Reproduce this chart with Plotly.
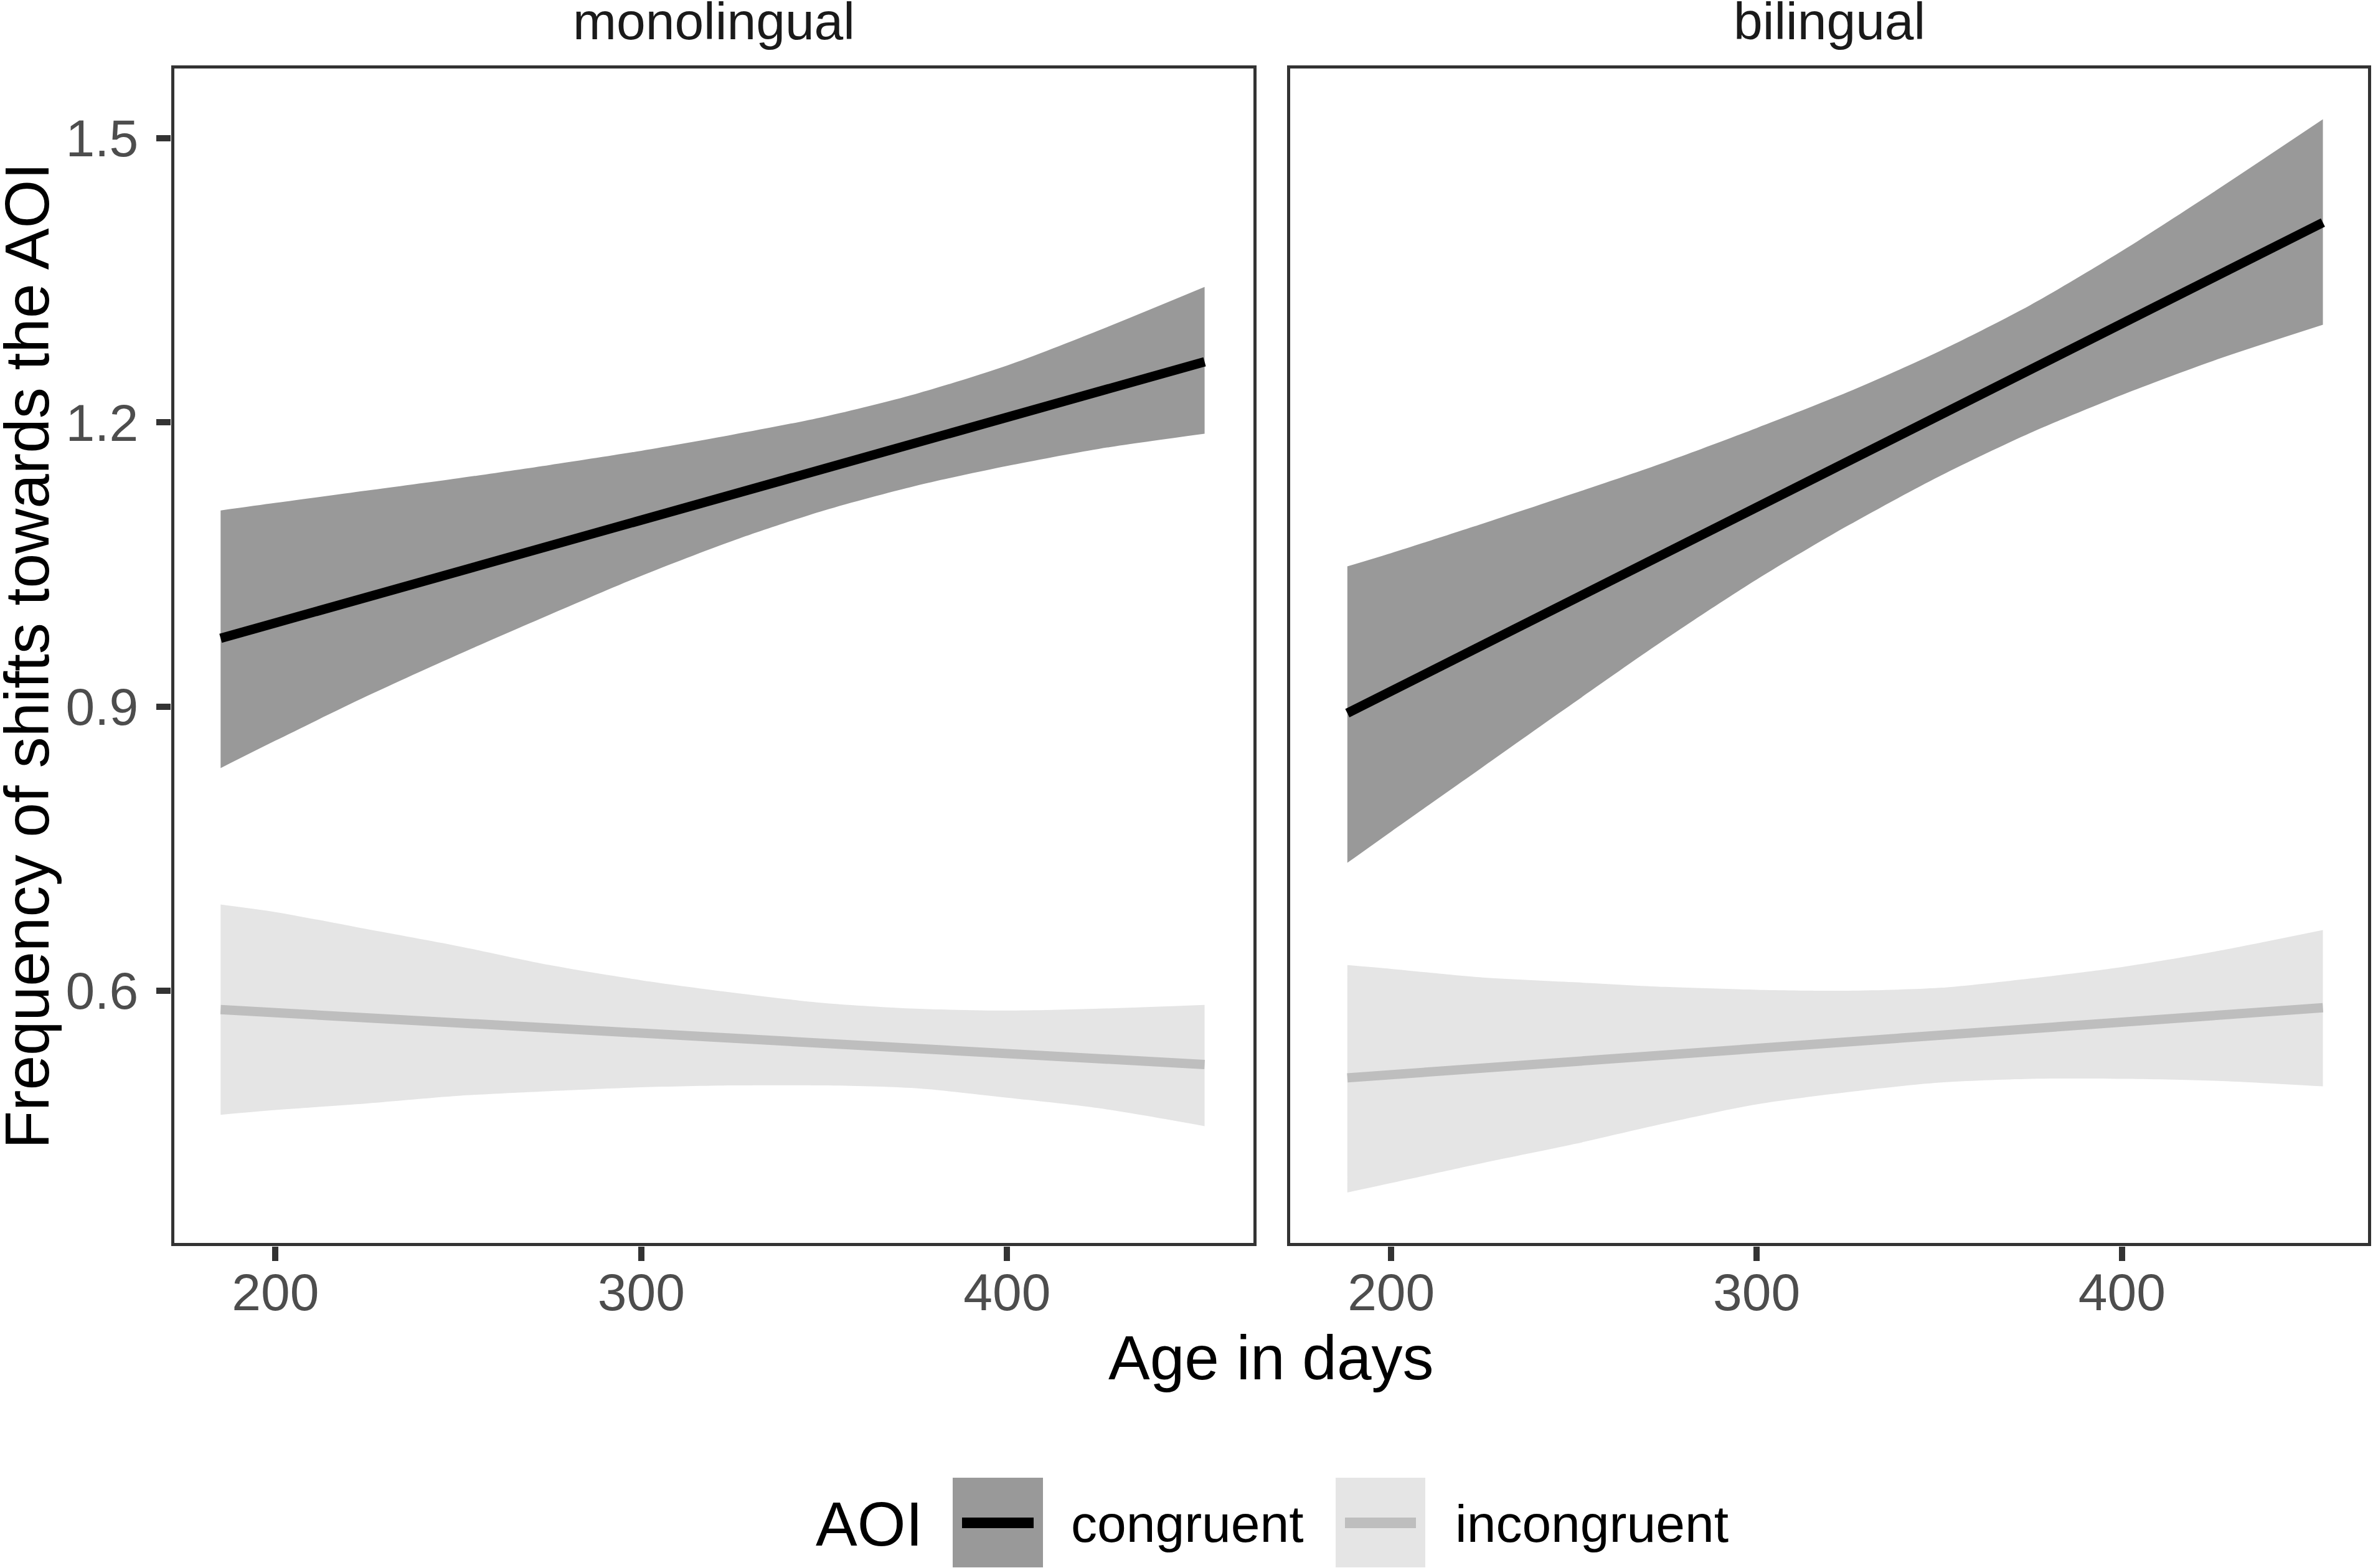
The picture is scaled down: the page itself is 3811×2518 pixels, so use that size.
import plotly.graph_objects as go

# ---------------- data ----------------
panels = ["monolingual", "bilingual"]
aoi_levels = ["congruent", "incongruent"]

x_ticks = [200, 300, 400]
y_ticks = [0.6, 0.9, 1.2, 1.5]
y_tick_labels = ["0.6", "0.9", "1.2", "1.5"]

# monolingual panel
mono_age = [185, 200, 225, 250, 275, 300, 325, 350, 375, 400, 425, 454]
mono_age_ends = [185, 454]
mono_cong_fit = [0.972, 1.264]
mono_cong_upper = [1.107, 1.115, 1.128, 1.141, 1.155, 1.170, 1.187, 1.206, 1.230, 1.260, 1.297, 1.343]
mono_cong_lower = [0.835, 0.864, 0.911, 0.955, 0.997, 1.038, 1.075, 1.107, 1.133, 1.154, 1.172, 1.188]
mono_incong_fit = [0.580, 0.522]
mono_incong_upper = [0.691, 0.683, 0.665, 0.647, 0.627, 0.611, 0.598, 0.587, 0.581, 0.579, 0.581, 0.585]
mono_incong_lower = [0.469, 0.474, 0.481, 0.489, 0.494, 0.498, 0.500, 0.500, 0.497, 0.487, 0.476, 0.457]

# bilingual panel
bi_age = [188, 200, 225, 250, 275, 300, 325, 350, 375, 400, 425, 455]
bi_age_ends = [188, 455]
bi_cong_fit = [0.893, 1.411]
bi_cong_upper = [1.048, 1.062, 1.093, 1.125, 1.158, 1.194, 1.232, 1.275, 1.324, 1.381, 1.443, 1.520]
bi_cong_lower = [0.735, 0.768, 0.836, 0.904, 0.971, 1.034, 1.091, 1.143, 1.189, 1.229, 1.265, 1.303]
bi_incong_fit = [0.508, 0.582]
bi_incong_upper = [0.627, 0.623, 0.614, 0.609, 0.604, 0.601, 0.600, 0.603, 0.613, 0.625, 0.641, 0.664]
bi_incong_lower = [0.387, 0.397, 0.418, 0.438, 0.460, 0.480, 0.493, 0.503, 0.507, 0.507, 0.505, 0.499]

# ---------------- styling ----------------
W, H = 3811, 2518
FONT = "Liberation Sans, Arial, Helvetica, sans-serif"
RIBBON = {"congruent": "#999999", "incongruent": "#E5E5E5"}
LINE = {"congruent": "#000000", "incongruent": "#BEBEBE"}
LINE_W = 15
TICK_SIZE = 84
TITLE_SIZE = 100

# panel pixel boxes (left, right) and (top, bottom)
P1 = (275, 2018)
P2 = (2067, 3808)
PT, PB = 105, 2001


def px_x(v):
    return v / W


def px_y(v):
    return 1 - v / H


fig = go.Figure()


def add_group(xa, ya, ages, upper, lower, ends, fit, level):
    fig.add_trace(go.Scatter(
        x=ages, y=lower, mode="lines",
        line=dict(width=0, color=RIBBON[level], shape="spline", smoothing=0.8),
        hoverinfo="skip", showlegend=False, xaxis=xa, yaxis=ya))
    fig.add_trace(go.Scatter(
        x=ages, y=upper, mode="lines", fill="tonexty", fillcolor=RIBBON[level],
        line=dict(width=0, color=RIBBON[level], shape="spline", smoothing=0.8),
        hoverinfo="skip", showlegend=False, xaxis=xa, yaxis=ya))
    fig.add_trace(go.Scatter(
        x=ends, y=fit, mode="lines", name=level,
        line=dict(width=LINE_W, color=LINE[level]),
        showlegend=False, xaxis=xa, yaxis=ya))


add_group("x", "y", mono_age, mono_cong_upper, mono_cong_lower, mono_age_ends, mono_cong_fit, "congruent")
add_group("x", "y", mono_age, mono_incong_upper, mono_incong_lower, mono_age_ends, mono_incong_fit, "incongruent")
add_group("x2", "y2", bi_age, bi_cong_upper, bi_cong_lower, bi_age_ends, bi_cong_fit, "congruent")
add_group("x2", "y2", bi_age, bi_incong_upper, bi_incong_lower, bi_age_ends, bi_incong_fit, "incongruent")

xrange = [171.5, 468.2]
yrange = [0.3304, 1.5769]
ydom = [px_y(PB), px_y(PT)]

common_x = dict(range=xrange, tickvals=x_ticks, ticks="outside", ticklen=23, tickwidth=10,
                tickcolor="#333333", showgrid=False, zeroline=False, showline=False,
                tickfont=dict(family=FONT, size=TICK_SIZE, color="#4D4D4D"),
                ticklabelstandoff=-22, fixedrange=True)
fig.update_layout(
    xaxis=dict(domain=[px_x(P1[0]), px_x(P1[1])], anchor="y", **common_x),
    xaxis2=dict(domain=[px_x(P2[0]), px_x(P2[1])], anchor="y2", **common_x),
    yaxis=dict(domain=ydom, anchor="x", range=yrange, tickvals=y_ticks, ticktext=y_tick_labels,
               ticks="outside", ticklen=23, tickwidth=10, tickcolor="#333333",
               showgrid=False, zeroline=False, showline=False,
               tickfont=dict(family=FONT, size=TICK_SIZE, color="#4D4D4D"),
               ticklabelstandoff=12, fixedrange=True),
    yaxis2=dict(domain=ydom, anchor="x2", range=yrange, showticklabels=False, ticks="",
                showgrid=False, zeroline=False, showline=False, fixedrange=True),
)

shapes = []
# panel borders (drawn inside the panel edge)
for (l, r) in (P1, P2):
    shapes.append(dict(type="rect", xref="paper", yref="paper",
                       x0=px_x(l + 2.5), x1=px_x(r - 2.5), y0=px_y(PB - 2.5), y1=px_y(PT + 2.5),
                       line=dict(color="#333333", width=5), fillcolor="rgba(0,0,0,0)", layer="above"))

# legend keys
key_top, key_bot, key_mid = 2373, 2517, 2445.5
legend_keys = [(1530, 1675, "congruent"), (2145, 2289, "incongruent")]
for (k0, k1, level) in legend_keys:
    shapes.append(dict(type="rect", xref="paper", yref="paper",
                       x0=px_x(k0), x1=px_x(k1), y0=px_y(key_bot), y1=px_y(key_top),
                       line=dict(width=0), fillcolor=RIBBON[level], layer="below"))
    shapes.append(dict(type="line", xref="paper", yref="paper",
                       x0=px_x(k0 + 15), x1=px_x(k1 - 15), y0=px_y(key_mid), y1=px_y(key_mid),
                       line=dict(color=LINE[level], width=17)))

annotations = []
# facet strips
for name, (l, r) in zip(panels, (P1, P2)):
    annotations.append(dict(text=name, x=px_x((l + r) / 2), y=px_y(34), xref="paper", yref="paper",
                            xanchor="center", yanchor="middle", showarrow=False,
                            font=dict(family=FONT, size=TICK_SIZE, color="#1A1A1A")))
# axis titles
annotations.append(dict(text="Age in days", x=px_x((P1[0] + P2[1]) / 2), y=px_y(2180),
                        xref="paper", yref="paper", xanchor="center", yanchor="middle", showarrow=False,
                        font=dict(family=FONT, size=TITLE_SIZE, color="#000000")))
annotations.append(dict(text="Frequency of shifts towards the AOI", x=px_x(43), y=px_y((PT + PB) / 2),
                        xref="paper", yref="paper", xanchor="center", yanchor="middle", showarrow=False,
                        textangle=-90, font=dict(family=FONT, size=TITLE_SIZE, color="#000000")))
# legend texts
annotations.append(dict(text="AOI", x=px_x(1308), y=px_y(2447), xref="paper", yref="paper",
                        xanchor="left", yanchor="middle", showarrow=False,
                        font=dict(family=FONT, size=TITLE_SIZE, color="#000000")))
for (xl, level) in ((1718, "congruent"), (2335, "incongruent")):
    annotations.append(dict(text=level, x=px_x(xl), y=px_y(2447), xref="paper", yref="paper",
                            xanchor="left", yanchor="middle", showarrow=False,
                            font=dict(family=FONT, size=TICK_SIZE, color="#000000")))

fig.update_layout(
    width=W, height=H, margin=dict(l=0, r=0, t=0, b=0, pad=0),
    paper_bgcolor="white", plot_bgcolor="white", showlegend=False,
    shapes=shapes, annotations=annotations,
    font=dict(family=FONT),
)

fig.write_html("out.html", config={"displayModeBar": False, "staticPlot": True},
               post_script="document.body.style.margin='0';document.body.style.overflow='hidden';")
